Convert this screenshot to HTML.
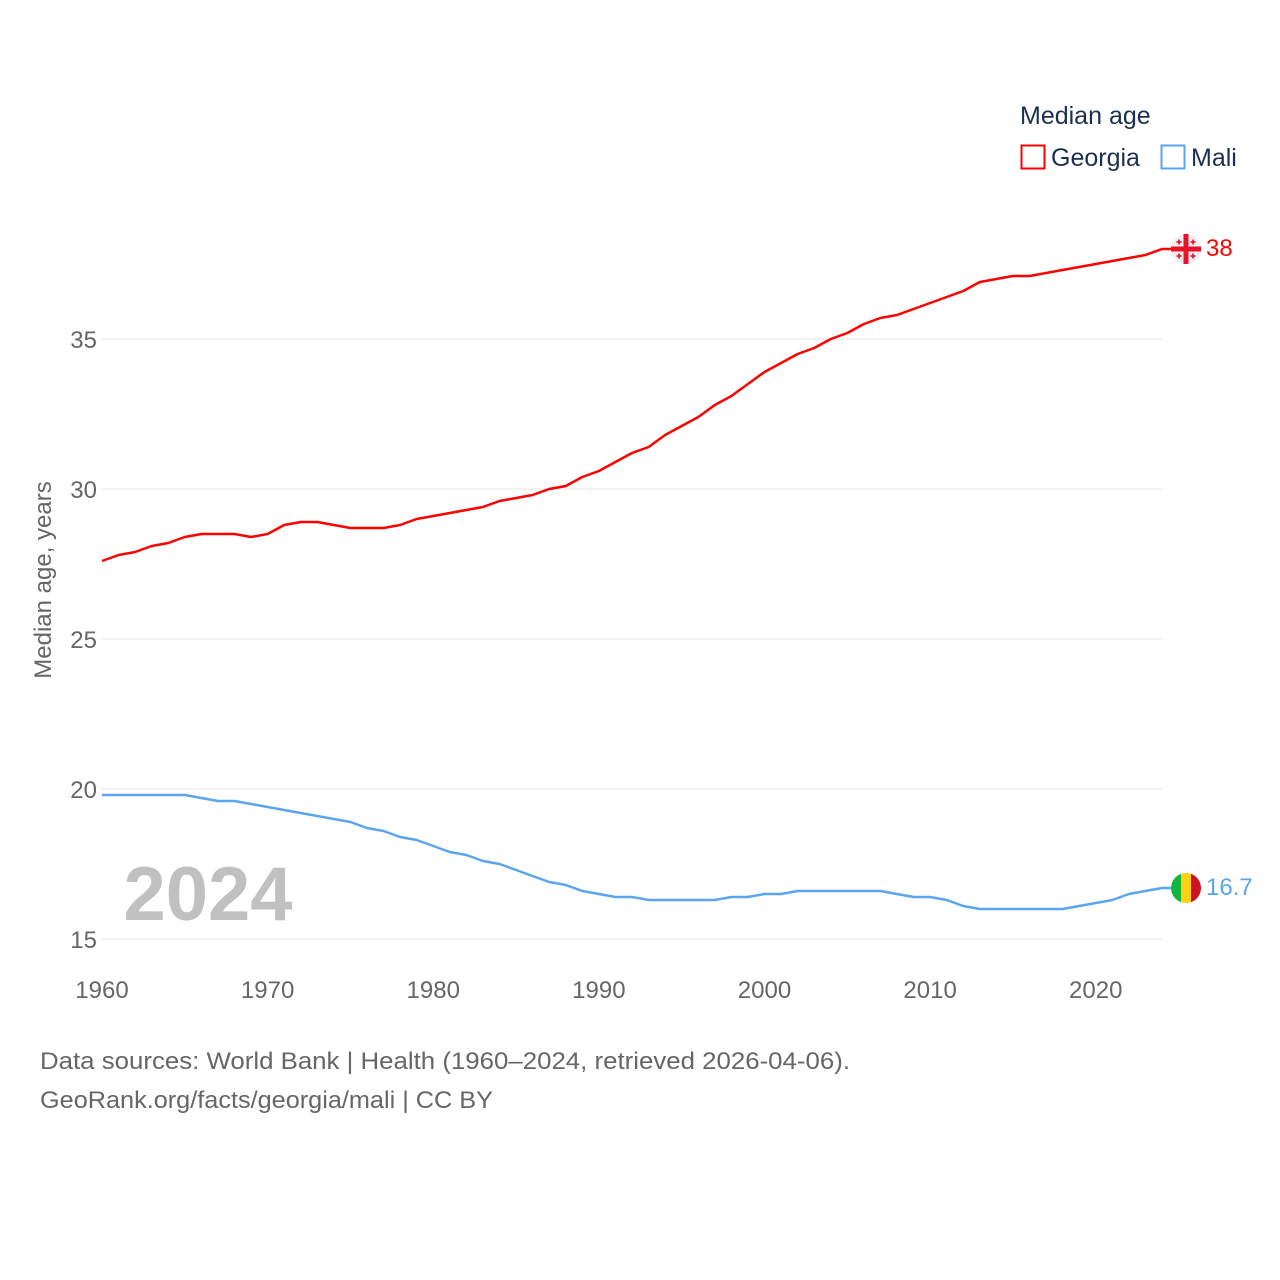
<!DOCTYPE html>
<html><head><meta charset="utf-8"><style>
body{margin:0;background:#fff;}
svg{display:block;font-family:"Liberation Sans",sans-serif;}
</style></head><body>
<svg id="chart" width="1280" height="1280" viewBox="0 0 1280 1280">
<rect width="1280" height="1280" fill="#fff"/>
<g id="grid"></g>
<g id="xt"></g>
<text x="208" y="920" font-size="76" font-weight="bold" fill="#c0c0c0" text-anchor="middle">2024</text>
<g id="lines"></g>
<text transform="translate(51,580) rotate(-90)" text-anchor="middle" font-size="24" fill="#666">Median age, years</text>
<g>
<text x="1020" y="124" font-size="25" fill="#1b2f50">Median age</text>
<g><rect x="1021.5" y="145.5" width="23" height="23" fill="none" stroke="#f00" stroke-width="2"/><text x="1051" y="166" font-size="25" fill="#1b2f50">Georgia</text></g>
<g><rect x="1161.5" y="145.5" width="23" height="23" fill="none" stroke="#5aa5f0" stroke-width="2"/><text x="1191" y="166" font-size="25" fill="#1b2f50">Mali</text></g>
</g>
<text x="40" y="1069" font-size="24" fill="#666" textLength="810" lengthAdjust="spacingAndGlyphs">Data sources: World Bank | Health (1960–2024, retrieved 2026-04-06).</text>
<text x="40" y="1108" font-size="24" fill="#666" textLength="453" lengthAdjust="spacingAndGlyphs">GeoRank.org/facts/georgia/mali | CC BY</text>
</svg>
<script>
const years=[];for(let y=1960;y<=2024;y++)years.push(y);
const georgia=[27.6,27.8,27.9,28.1,28.2,28.4,28.5,28.5,28.5,28.4,28.5,28.8,28.9,28.9,28.8,28.7,28.7,28.7,28.8,29.0,29.1,29.2,29.3,29.4,29.6,29.7,29.8,30.0,30.1,30.4,30.6,30.9,31.2,31.4,31.8,32.1,32.4,32.8,33.1,33.5,33.9,34.2,34.5,34.7,35.0,35.2,35.5,35.7,35.8,36.0,36.2,36.4,36.6,36.9,37.0,37.1,37.1,37.2,37.3,37.4,37.5,37.6,37.7,37.8,38.0];
const mali=[19.8,19.8,19.8,19.8,19.8,19.8,19.7,19.6,19.6,19.5,19.4,19.3,19.2,19.1,19.0,18.9,18.7,18.6,18.4,18.3,18.1,17.9,17.8,17.6,17.5,17.3,17.1,16.9,16.8,16.6,16.5,16.4,16.4,16.3,16.3,16.3,16.3,16.3,16.4,16.4,16.5,16.5,16.6,16.6,16.6,16.6,16.6,16.6,16.5,16.4,16.4,16.3,16.1,16.0,16.0,16.0,16.0,16.0,16.0,16.1,16.2,16.3,16.5,16.6,16.7];
const yTicks=[15,20,25,30,35];
const xTicks=[1960,1970,1980,1990,2000,2010,2020];
const endLabels=["38","16.7"];
const NS="http://www.w3.org/2000/svg";
const xs=y=>102+(y-1960)*(1060/64);
const ys=v=>939-(v-15)*30;
function mk(t,a,p){const e=document.createElementNS(NS,t);for(const k in a)e.setAttribute(k,a[k]);p.appendChild(e);return e;}
const grid=document.getElementById('grid');
yTicks.forEach(v=>{
 const l=mk('line',{x1:102,x2:1162,y1:ys(v),y2:ys(v),stroke:'#e6e6e6','stroke-width':1},grid);
 
 
 const t=mk('text',{x:97,y:ys(v)+9,'text-anchor':'end','font-size':24,fill:'#666'},grid);t.textContent=v;
 
 
});
const xt=document.getElementById('xt');
xTicks.forEach(v=>{
 const t=mk('text',{x:xs(v),y:998,'text-anchor':'middle','font-size':24,fill:'#666'},xt);t.textContent=v;
 
 
});
const lines=document.getElementById('lines');
function series(vals,col,name,label){
 const d=vals.map((v,i)=>(i?'L':'M')+xs(years[i]).toFixed(1)+','+ys(v).toFixed(1)).join('')+'L1172,'+ys(vals[vals.length-1]).toFixed(1);
 const p=mk('path',{d:d,fill:'none',stroke:col,'stroke-width':2.5,'stroke-linejoin':'round'},lines);
 
 
 const cy=ys(vals[vals.length-1]);
 const g=mk('g',{},lines);
 
 
 if(name==='georgia'){
  mk('circle',{cx:1186,cy:cy,r:15,fill:'#eee'},g);
  mk('rect',{x:1171,y:cy-2.5,width:30,height:5,fill:'#e8112d'},g);
  mk('rect',{x:1183.5,y:cy-15,width:5,height:30,fill:'#e8112d'},g);
  [[-7,-7],[7,-7],[-7,7],[7,7]].forEach(o=>{mk('rect',{x:1186+o[0]-2.5,y:cy+o[1]-0.8,width:5,height:1.6,fill:'#e8112d'},g);mk('rect',{x:1186+o[0]-0.8,y:cy+o[1]-2.5,width:1.6,height:5,fill:'#e8112d'},g);});
 }else{
  const cp=mk('clipPath',{id:'mc'},g);mk('circle',{cx:1186,cy:cy,r:15},cp);
  const f=mk('g',{'clip-path':'url(#mc)'},g);
  mk('rect',{x:1171,y:cy-15,width:10,height:30,fill:'#14b53a'},f);
  mk('rect',{x:1181,y:cy-15,width:10,height:30,fill:'#fcd116'},f);
  mk('rect',{x:1191,y:cy-15,width:10,height:30,fill:'#ce1126'},f);
 }
 const t=mk('text',{x:1206,y:cy+7,'font-size':24,fill:col},lines);t.textContent=label;
 
 
}
series(georgia,'#ff0000','georgia',endLabels[0]);
series(mali,'#5aa5f0','mali',endLabels[1]);
</script>
</body></html>
